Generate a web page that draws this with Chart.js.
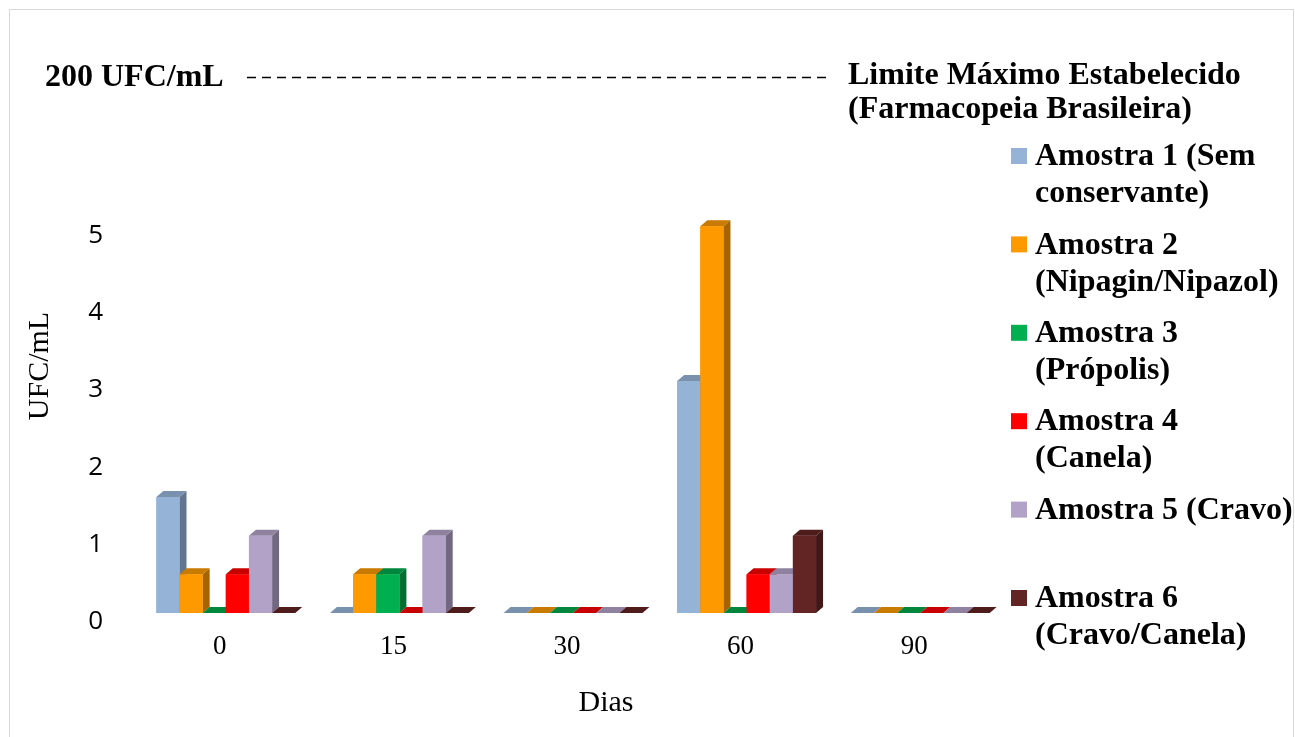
<!DOCTYPE html>
<html>
<head>
<meta charset="utf-8">
<script src="https://cdn.jsdelivr.net/npm/chart.js@4"></script>
<style>
  html, body { margin: 0; padding: 0; background: #ffffff; }
  #wrap { position: relative; width: 1295px; height: 737px; }
  canvas { display: block; }
</style>
</head>
<body>
<div id="wrap"><canvas id="c" width="1295" height="737"></canvas></div>
<script>
// Sampling days (x categories)
const days = ['0', '15', '30', '60', '90'];

// Legend text, one array of lines per sample
const seriesLabels = [
  ['Amostra 1 (Sem', 'conservante)'],
  ['Amostra 2', '(Nipagin/Nipazol)'],
  ['Amostra 3', '(Própolis)'],
  ['Amostra 4', '(Canela)'],
  ['Amostra 5 (Cravo)'],
  ['Amostra 6', '(Cravo/Canela)']
];

// Colony counts (UFC/mL) per sample and day
const amostra1 = [1.5, 0, 0, 3, 0];
const amostra2 = [0.5, 0.5, 0, 5, 0];
const amostra3 = [0, 0.5, 0, 0, 0];
const amostra4 = [0.5, 0, 0, 0.5, 0];
const amostra5 = [1, 1, 0, 0.5, 0];
const amostra6 = [0, 0, 0, 1, 0];

// Y-axis tick labels
const yTickValues = [0, 1, 2, 3, 4, 5];

// Regulatory limit shown above the broken axis
const limitValue = 200;
const limitUnit = 'UFC/mL';
const limitCaption = ['Limite Máximo Estabelecido', '(Farmacopeia Brasileira)'];

const yTitle = 'UFC/mL';
const xTitle = 'Dias';

// Face colours for the extruded bars
const frontColors = ['#95B3D7', '#FF9900', '#00B050', '#FF0000', '#B3A2C7', '#632523'];
const topColors   = ['#7A91AE', '#C97A00', '#00873D', '#C80000', '#8F82A0', '#4E1C1B'];
const sideColors  = ['#62758E', '#A66400', '#006E31', '#A00000', '#736882', '#431717'];

const seriesValues = [amostra1, amostra2, amostra3, amostra4, amostra5, amostra6];

const SERIF = '"Liberation Serif", "Times New Roman", serif';
const SANS = '"Open Sans", "Liberation Sans", sans-serif';

// Depth of the extrusion in pixels
const DEPTH_X = 7;
const DEPTH_Y = 6;

const bars3d = {
  id: 'bars3d',
  afterDatasetsDraw(chart) {
    const ctx = chart.ctx;
    ctx.save();
    for (let i = 0; i < chart.data.datasets.length; i++) {
      const meta = chart.getDatasetMeta(i);
      meta.data.forEach(el => {
        const p = el.getProps(['x', 'y', 'base', 'width'], true);
        const l = p.x - p.width / 2;
        const r = p.x + p.width / 2;
        const top = Math.min(p.y, p.base);
        const bot = Math.max(p.y, p.base);
        // side face
        ctx.fillStyle = sideColors[i];
        ctx.beginPath();
        ctx.moveTo(r, top);
        ctx.lineTo(r + DEPTH_X, top - DEPTH_Y);
        ctx.lineTo(r + DEPTH_X, bot - DEPTH_Y);
        ctx.lineTo(r, bot);
        ctx.closePath();
        ctx.fill();
        // top face
        ctx.fillStyle = topColors[i];
        ctx.beginPath();
        ctx.moveTo(l, top);
        ctx.lineTo(r, top);
        ctx.lineTo(r + DEPTH_X, top - DEPTH_Y);
        ctx.lineTo(l + DEPTH_X, top - DEPTH_Y);
        ctx.closePath();
        ctx.fill();
        // front face
        if (bot - top > 0) {
          ctx.fillStyle = frontColors[i];
          ctx.fillRect(l, top, p.width, bot - top);
        }
      });
    }
    ctx.restore();
  }
};

const decorations = {
  id: 'decorations',
  beforeDraw(chart) {
    const ctx = chart.ctx;
    ctx.save();
    ctx.fillStyle = '#ffffff';
    ctx.fillRect(0, 0, chart.width, chart.height);
    ctx.strokeStyle = '#D9D9D9';
    ctx.lineWidth = 1;
    ctx.strokeRect(9.5, 9.5, 1284, 800);
    ctx.restore();
  },
  afterDraw(chart) {
    const ctx = chart.ctx;
    ctx.save();
    ctx.fillStyle = '#000000';

    // limit annotation
    ctx.font = 'bold 32px ' + SERIF;
    ctx.textBaseline = 'middle';
    ctx.textAlign = 'left';
    ctx.fillText(limitValue + ' ' + limitUnit, 45, 78);
    ctx.fillText(limitCaption[0], 848, 76);
    ctx.fillText(limitCaption[1], 848, 110);
    ctx.strokeStyle = '#000000';
    ctx.lineWidth = 1.5;
    ctx.setLineDash([9, 6]);
    ctx.beginPath();
    ctx.moveTo(247, 77.5);
    ctx.lineTo(828, 77.5);
    ctx.stroke();
    ctx.setLineDash([]);

    // axis titles
    ctx.font = '30px ' + SERIF;
    ctx.textAlign = 'center';
    ctx.fillText(xTitle, 606, 703);
    ctx.save();
    ctx.translate(40, 366);
    ctx.rotate(-Math.PI / 2);
    ctx.fillText(yTitle, 0, 0);
    ctx.restore();

    // legend
    ctx.textAlign = 'left';
    ctx.font = 'bold 32px ' + SERIF;
    seriesLabels.forEach((lines, i) => {
      const cy = 156 + i * 88.4;
      ctx.fillStyle = frontColors[i];
      ctx.fillRect(1011, cy - 8, 16, 16);
      ctx.fillStyle = '#000000';
      lines.forEach((t, k) => ctx.fillText(t, 1035, cy + 1 + k * 37));
    });
    ctx.restore();
  }
};

new Chart(document.getElementById('c'), {
  type: 'bar',
  data: {
    labels: days,
    datasets: seriesValues.map((vals, i) => ({
      label: seriesLabels[i].join(' '),
      data: vals,
      backgroundColor: frontColors[i],
      borderWidth: 0,
      categoryPercentage: 0.8,
      barPercentage: 1.0
    }))
  },
  options: {
    responsive: false,
    devicePixelRatio: 1,
    animation: false,
    layout: { padding: { top: 149, right: 288, left: 0, bottom: 0 } },
    plugins: { legend: { display: false }, tooltip: { enabled: false } },
    scales: {
      x: {
        grid: { display: false, drawTicks: false },
        border: { display: false },
        ticks: {
          color: '#000000',
          font: { family: SERIF, size: 27 },
          padding: 18,
          labelOffset: -6,
          maxRotation: 0
        },
        afterFit(scale) { scale.height = 124; }
      },
      y: {
        min: 0,
        max: 6,
        grid: { display: false, drawTicks: false },
        border: { display: false },
        ticks: {
          color: '#000000',
          font: { family: SANS, size: 26 },
          padding: 36,
          labelOffset: 9
        },
        afterBuildTicks(scale) {
          scale.ticks = yTickValues.map(v => ({ value: v }));
        },
        afterFit(scale) { scale.width = 139; }
      }
    }
  },
  plugins: [decorations, bars3d]
});
</script>
</body>
</html>
